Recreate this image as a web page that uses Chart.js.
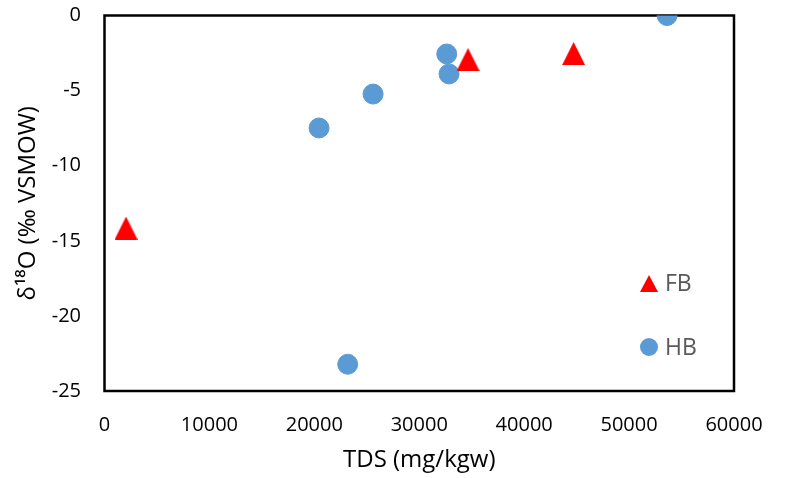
<!DOCTYPE html>
<html>
<head>
<meta charset="utf-8">
<script src="https://cdn.jsdelivr.net/npm/chart.js@4"></script>
<style>
  html, body { margin: 0; padding: 0; background: #fff; }
  #wrap { width: 785px; height: 478px; }
</style>
</head>
<body>
<div id="wrap"><canvas id="isoChart"></canvas></div>
<script>
// FB and HB samples: TDS (mg/kgw) vs δ18O (‰ VSMOW)
const fbTds = [2050, 34650, 44710];
const fbD18O = [-14.15, -2.93, -2.53];
const hbTds = [53620, 32620, 32840, 25600, 20450, 23180];
const hbD18O = [0, -2.56, -3.89, -5.23, -7.49, -23.22];
const xTicks = [0, 10000, 20000, 30000, 40000, 50000, 60000];
const yTicks = [-25, -20, -15, -10, -5, 0];

const FB_RED = '#ff0000';
const HB_BLUE = '#5b9bd5';
const FONT = "'Open Sans', 'Noto Sans', sans-serif";

function makeTriangle(w, h, color) {
    const c = document.createElement('canvas');
    c.width = w; c.height = h;
    const g = c.getContext('2d');
    g.fillStyle = color;
    g.beginPath();
    g.moveTo(w / 2, 0);
    g.lineTo(w, h);
    g.lineTo(0, h);
    g.closePath();
    g.fill();
    return c;
}

// black frame round the plot area, under the markers
const plotFrame = {
    id: 'plotFrame',
    beforeDatasetsDraw(chart) {
        const { ctx, chartArea: a } = chart;
        ctx.save();
        ctx.strokeStyle = '#000';
        ctx.lineWidth = 2.5;
        ctx.strokeRect(a.left, a.top, a.right - a.left, a.bottom - a.top);
        ctx.restore();
    }
};

// legend sits inside the plot, lower right
const insideLegend = {
    id: 'insideLegend',
    afterDraw(chart) {
        const { ctx, chartArea: a } = chart;
        const mx = a.right - 85;
        const rows = [
            { y: a.top + 268, ds: chart.data.datasets[0] },
            { y: a.top + 331.5, ds: chart.data.datasets[1] }
        ];
        ctx.save();
        ctx.font = '23px ' + FONT;
        ctx.textBaseline = 'middle';
        ctx.textAlign = 'left';
        rows.forEach(r => {
            ctx.fillStyle = r.ds.backgroundColor;
            if (r.ds.label === 'FB') {
                ctx.beginPath();
                ctx.moveTo(mx, r.y - 8.5);
                ctx.lineTo(mx + 9, r.y + 8.5);
                ctx.lineTo(mx - 9, r.y + 8.5);
                ctx.closePath();
                ctx.fill();
            } else {
                ctx.beginPath();
                ctx.arc(mx, r.y, 9, 0, Math.PI * 2);
                ctx.fill();
            }
            ctx.fillStyle = '#595959';
            ctx.fillText(r.ds.label, mx + 16, r.y + 1);
        });
        ctx.restore();
    }
};

const ctx = document.getElementById('isoChart').getContext('2d');
new Chart(ctx, {
    type: 'scatter',
    data: {
        datasets: [{
            label: 'FB',
            data: fbTds.map((x, i) => ({ x: x, y: fbD18O[i] })),
            backgroundColor: FB_RED,
            borderColor: FB_RED,
            pointStyle: makeTriangle(23, 23, FB_RED),
            pointRadius: 11,
            pointHoverRadius: 11
        }, {
            label: 'HB',
            data: hbTds.map((x, i) => ({ x: x, y: hbD18O[i] })),
            backgroundColor: HB_BLUE,
            borderColor: HB_BLUE,
            borderWidth: 1,
            pointStyle: 'circle',
            pointRadius: 10,
            pointHoverRadius: 10
        }]
    },
    options: {
        responsive: true, maintainAspectRatio: false, animation: false,
        layout: { padding: { top: 15.5, right: 51, bottom: 3, left: 13.6 } },
        scales: {
            x: {
                type: 'linear', position: 'bottom', min: 0, max: 60000,
                afterBuildTicks: axis => { axis.ticks = xTicks.map(v => ({ value: v })); },
                afterFit: axis => { axis.height = 84; axis.paddingLeft = 0; axis.paddingRight = 0; },
                grid: { display: false, drawTicks: false },
                border: { display: false },
                ticks: { padding: 22, maxRotation: 0, color: '#000', font: { family: FONT, size: 20 }, callback: v => String(v) },
                title: { display: true, text: 'TDS (mg/kgw)', color: '#000', font: { family: FONT, size: 24 }, padding: 0 }
            },
            y: {
                type: 'linear', position: 'left', min: -25, max: 0,
                afterBuildTicks: axis => { axis.ticks = yTicks.map(v => ({ value: v })); },
                afterFit: axis => { axis.width = 90.9; axis.paddingTop = 0; axis.paddingBottom = 0; },
                grid: { display: false, drawTicks: false },
                border: { display: false },
                ticks: { padding: 23.5, color: '#000', font: { family: FONT, size: 20 } },
                title: { display: true, text: 'δ¹⁸O (‰ VSMOW)', color: '#000', font: { family: FONT, size: 24 }, padding: 0 }
            }
        },
        plugins: { legend: { display: false }, tooltip: { enabled: false } }
    },
    plugins: [plotFrame, insideLegend]
});
</script>
</body>
</html>
